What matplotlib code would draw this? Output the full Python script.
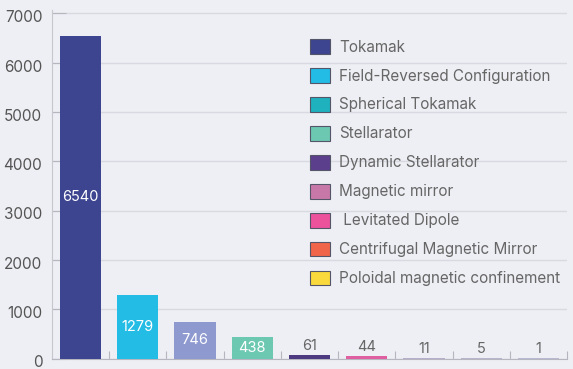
import matplotlib
matplotlib.use('Agg')
import matplotlib.pyplot as plt
from matplotlib.patches import Patch
from matplotlib.transforms import ScaledTranslation

# data
categories = ['Tokamak', 'Field-Reversed Configuration', 'Spherical Tokamak', 'Stellarator',
              'Dynamic Stellarator', 'Magnetic mirror', ' Levitated Dipole',
              'Centrifugal Magnetic Mirror', 'Poloidal magnetic confinement']
values = [6540, 1279, 746, 438, 61, 44, 11, 5, 1]
bar_colors = ['#3D4590', '#22BCE5', '#8E99D0', '#6DC8B2', '#4E3A80', '#E05FA0',
              '#B8AECB', '#B8B4CC', '#B8B8D0']
legend_colors = ['#3D4590', '#22BCE5', '#1FB2BE', '#6DC8B2', '#5B3F8C', '#C878A8',
                 '#EC519C', '#F0654A', '#FAD93C']
y_ticks = [0, 1000, 2000, 3000, 4000, 5000, 6000, 7000]

bg = '#EEEFF4'
plt.rcParams['font.family'] = ['Inter', 'DejaVu Sans']

fig = plt.figure(figsize=(5.73, 3.69), dpi=100, facecolor=bg)
ax = fig.add_axes([52 / 573, 1 - 358.5 / 369, 515 / 573, 348.5 / 369])
ax.set_facecolor(bg)

x = list(range(len(values)))
ax.bar(x, values, width=0.72, color=bar_colors, zorder=3)

# value labels: inside for tall bars, above for short ones
for xi, v in zip(x, values):
    if v > 300:
        ax.text(xi, v / 2, str(v), ha='center', va='center', color='white',
                fontsize=10.5, zorder=4)
    else:
        ax.annotate(str(v), (xi, v), xytext=(0, 1.5), textcoords='offset points',
                    ha='center', va='bottom', color='#666666', fontsize=10.5, zorder=4)

ax.set_xlim(-0.5, len(values) - 0.5)
ax.set_ylim(0, 7070)
ax.set_yticks(y_ticks)
ax.set_yticklabels([str(t) for t in y_ticks])
ax.set_xticks([i + 0.5 for i in range(len(values))])
ax.set_xticklabels([])

ax.grid(axis='y', color='#D9DAE1', linewidth=1, zorder=0)
ax.tick_params(axis='y', direction='in', length=10, color='#B5B6C0', labelcolor='#555555',
               labelsize=11, pad=7)
ax.tick_params(axis='x', direction='in', length=6, color='#B5B6C0')
for lab in ax.get_yticklabels():
    lab.set_transform(lab.get_transform() + ScaledTranslation(0, -2 / 72, fig.dpi_scale_trans))

for s in ['top', 'right']:
    ax.spines[s].set_visible(False)
ax.spines['left'].set_color('#C5C6CE')
ax.spines['bottom'].set_color('#B5B6C0')

handles = [Patch(facecolor=c, edgecolor='#55556a', linewidth=0.8) for c in legend_colors]
leg = fig.legend(handles, categories, loc='upper left',
                 bbox_to_anchor=(310 / 573, 1 - 39 / 369), bbox_transform=fig.transFigure,
                 frameon=False, fontsize=11, handlelength=1.3, handleheight=1.1,
                 handletextpad=0.6, labelspacing=0.88, borderpad=0, borderaxespad=0)
for t in leg.get_texts():
    t.set_color('#666666')

fig.savefig('out.png', dpi=100, facecolor=bg)
